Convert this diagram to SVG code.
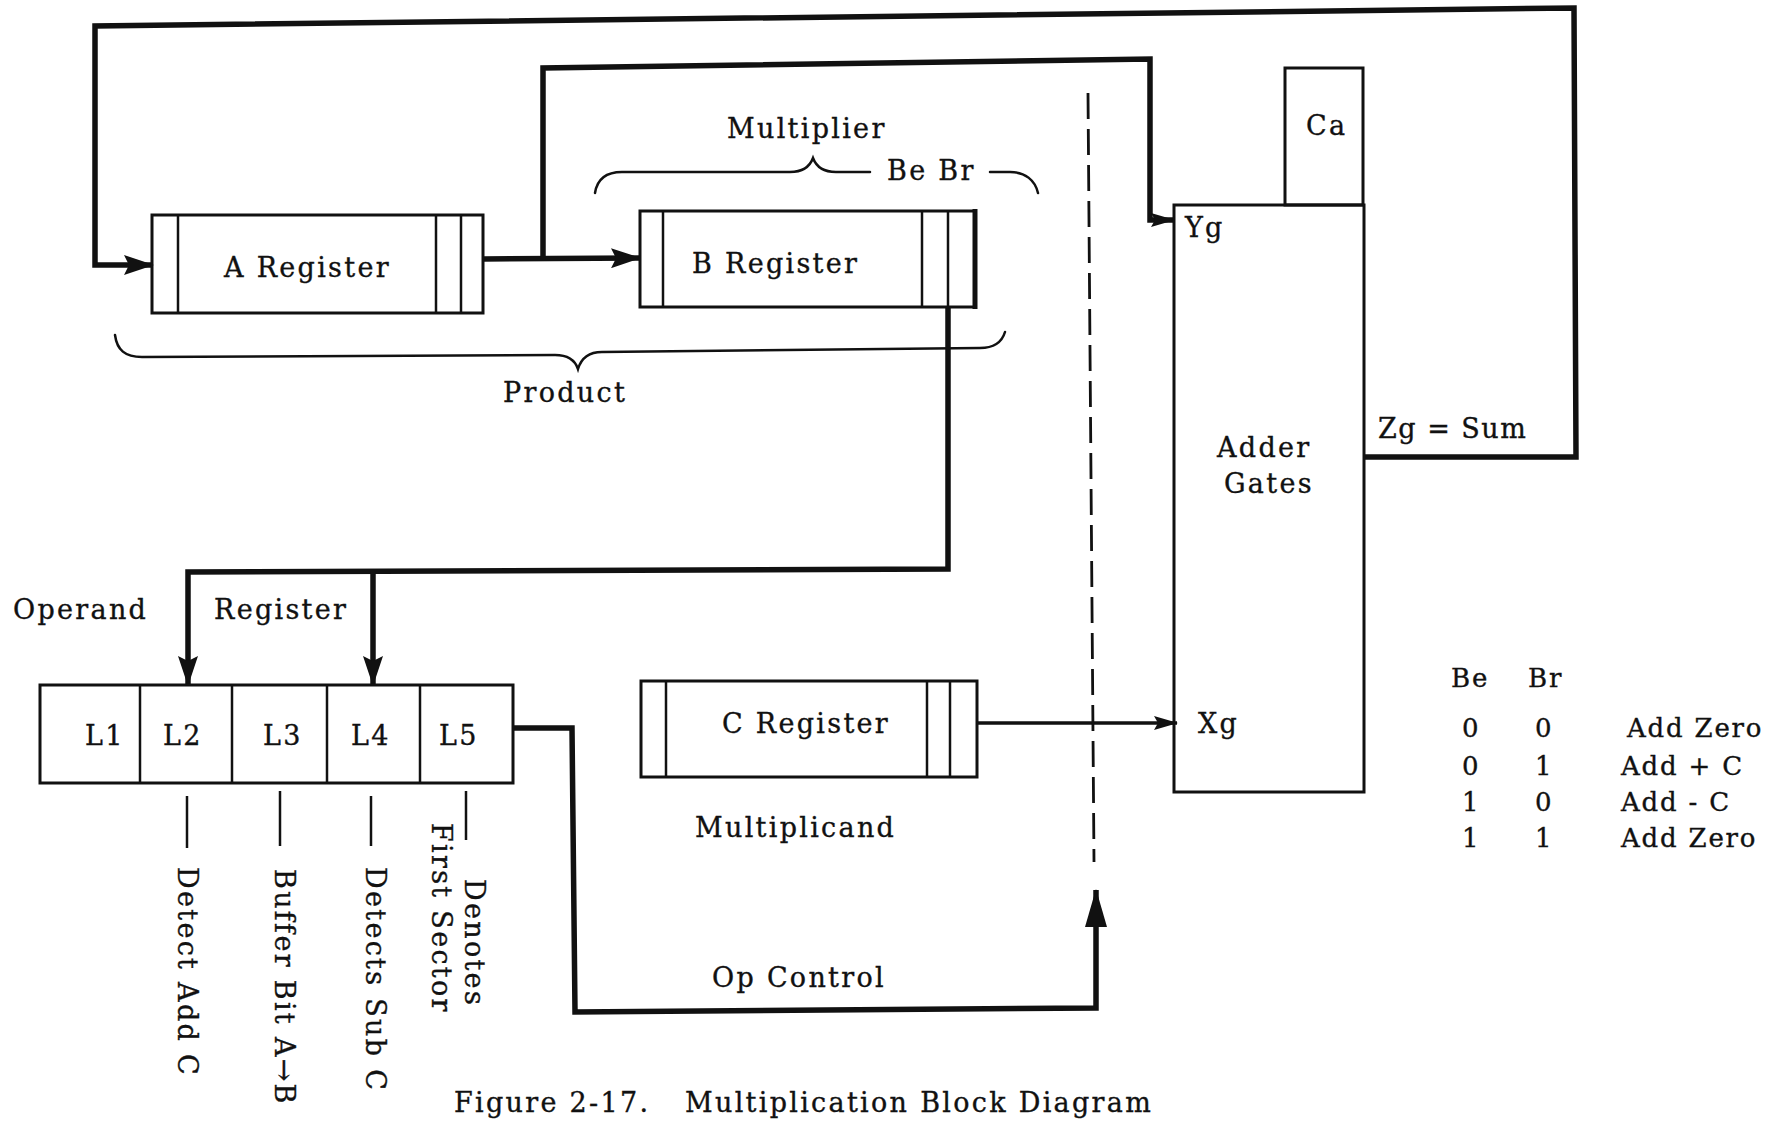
<svg xmlns="http://www.w3.org/2000/svg" width="1781" height="1140" viewBox="0 0 1781 1140">
<style>
.t{font-family:"DejaVu Serif","Liberation Serif",serif;font-size:27px;letter-spacing:2.3px;fill:#111;stroke:#111;stroke-width:0.35}
.s{font-size:26px;letter-spacing:1.8px}
.box{fill:none;stroke:#111;stroke-width:3}
.in{stroke:#111;stroke-width:2.5;fill:none}
.thick{fill:none;stroke:#111;stroke-width:5.5;stroke-linejoin:miter}
.med{fill:none;stroke:#111;stroke-width:3.5}
.thin{fill:none;stroke:#111;stroke-width:2.5}
.br{fill:none;stroke:#111;stroke-width:2.5;stroke-linecap:round}
.dash{fill:none;stroke:#111;stroke-width:2.8;stroke-dasharray:26 10}
</style>
<defs>
<marker id="arr" viewBox="0 0 30 20" refX="29" refY="10" markerWidth="30" markerHeight="20" markerUnits="userSpaceOnUse" orient="auto">
<path d="M0,0 L30,10 L0,20 L5,10 z" fill="#111"/>
</marker>
<marker id="arrS" viewBox="0 0 24 14" refX="23" refY="7" markerWidth="24" markerHeight="14" markerUnits="userSpaceOnUse" orient="auto">
<path d="M0,0 L24,7 L0,14 L4,7 z" fill="#111"/>
</marker>
<marker id="arrL" viewBox="0 0 38 22" refX="37" refY="11" markerWidth="38" markerHeight="22" markerUnits="userSpaceOnUse" orient="auto">
<path d="M0,0 L38,11 L0,22 z" fill="#111"/>
</marker>
</defs>
<rect width="1781" height="1140" fill="#fff"/>

<g id="connectors">
<path class="thick" d="M1365,457 L1576,457 L1574,8 L95,26 L95,265 L153,265" marker-end="url(#arr)"/>
<path class="thick" d="M483,259 L640,258" marker-end="url(#arr)"/>
<path class="thick" d="M543,259 L543,68 L1150,59 L1150,220 L1174,220" marker-end="url(#arrS)"/>
<path class="thick" d="M948,307 L948,569 L188,572 L188,685" marker-end="url(#arr)"/>
<path class="thick" d="M373,571 L373,685" marker-end="url(#arr)"/>
<path class="thick" d="M513,728 L572,728 L575,1012 L1096,1008 L1096,890" marker-end="url(#arrL)"/>
<path class="med" d="M977,723 L1177,723" marker-end="url(#arrS)"/>
<path class="dash" d="M1088,93 L1094,862"/>
</g>

<g id="a-register">
<rect class="box" x="152" y="215" width="331" height="98"/>
<line class="in" x1="178" y1="215" x2="178" y2="313"/>
<line class="in" x1="436" y1="215" x2="436" y2="313"/>
<line class="in" x1="461" y1="215" x2="461" y2="313"/>
<text class="t" x="224" y="277">A Register</text>
</g>

<g id="b-register">
<rect class="box" x="640" y="211" width="335" height="96"/>
<line class="in" x1="663" y1="211" x2="663" y2="307"/>
<line class="in" x1="922" y1="211" x2="922" y2="307"/>
<line class="in" x1="948" y1="211" x2="948" y2="307"/>
<line stroke="#111" stroke-width="5" x1="975" y1="209" x2="975" y2="309"/>
<text class="t" x="692" y="273">B Register</text>
</g>

<g id="c-register">
<rect class="box" x="641" y="681" width="336" height="96"/>
<line class="in" x1="666" y1="681" x2="666" y2="777"/>
<line class="in" x1="927" y1="681" x2="927" y2="777"/>
<line class="in" x1="950" y1="681" x2="950" y2="777"/>
<text class="t" x="722" y="733">C Register</text>
</g>

<g id="ca-register">
<rect class="box" x="1285" y="68" width="78" height="137"/>
<text class="t" x="1306" y="135">Ca</text>
</g>

<g id="adder-gates">
<rect class="box" x="1174" y="205" width="190" height="587"/>
<text class="t" x="1185" y="237">Yg</text>
<text class="t" x="1217" y="457">Adder</text>
<text class="t" x="1224" y="493">Gates</text>
<text class="t" x="1198" y="733">Xg</text>
<text class="t" x="1378" y="438" style="letter-spacing:1.5px">Zg = Sum</text>
</g>

<g id="operand-register">
<rect class="box" x="40" y="685" width="473" height="98"/>
<line class="in" x1="140" y1="685" x2="140" y2="783"/>
<line class="in" x1="232" y1="685" x2="232" y2="783"/>
<line class="in" x1="327" y1="685" x2="327" y2="783"/>
<line class="in" x1="420" y1="685" x2="420" y2="783"/>
<text class="t" x="85" y="745">L1</text>
<text class="t" x="163" y="745">L2</text>
<text class="t" x="263" y="745">L3</text>
<text class="t" x="351" y="745">L4</text>
<text class="t" x="439" y="745">L5</text>
<text class="t" x="13" y="619">Operand</text>
<text class="t" x="214" y="619">Register</text>
</g>

<g id="bit-notes">
<line class="thin" x1="187" y1="796" x2="187" y2="848"/>
<line class="thin" x1="280" y1="791" x2="280" y2="846"/>
<line class="thin" x1="371" y1="796" x2="371" y2="846"/>
<line class="thin" x1="466" y1="791" x2="466" y2="840"/>
<text class="t" transform="translate(178,867) rotate(90)">Detect Add C</text>
<text class="t" transform="translate(275,869) rotate(90)">Buffer Bit A→B</text>
<text class="t" transform="translate(366,867) rotate(90)">Detects Sub C</text>
<text class="t" transform="translate(465,879) rotate(90)">Denotes</text>
<text class="t" transform="translate(432,823) rotate(90)">First Sector</text>
</g>

<g id="braces">
<path class="br" d="M595,193 C597,180 605,172 622,172 L790,172 C803,172 810,166 813,158 C816,166 823,172 836,172 L870,172"/>
<path class="br" d="M990,172 L1010,172 C1025,172 1035,180 1038,193"/>
<path class="br" d="M115,335 C117,350 125,357 142,357 L555,355 C568,355 575,360 578,369 C581,359 588,352 602,352 L980,348 C994,348 1002,342 1005,332"/>
<text class="t" x="727" y="138">Multiplier</text>
<text class="t" x="887" y="180">Be Br</text>
<text class="t" x="503" y="402">Product</text>
</g>

<g id="labels">
<text class="t" x="695" y="837">Multiplicand</text>
<text class="t" x="712" y="987">Op Control</text>
<text class="t" x="454" y="1112">Figure 2-17.</text>
<text class="t" x="685" y="1112">Multiplication Block Diagram</text>
</g>

<g id="truth-table">
<text class="t s" x="1451" y="687">Be</text>
<text class="t s" x="1528" y="687">Br</text>
<text class="t s" x="1462" y="737">0</text>
<text class="t s" x="1535" y="737">0</text>
<text class="t s" x="1627" y="737">Add Zero</text>
<text class="t s" x="1462" y="775">0</text>
<text class="t s" x="1535" y="775">1</text>
<text class="t s" x="1621" y="775">Add + C</text>
<text class="t s" x="1462" y="811">1</text>
<text class="t s" x="1535" y="811">0</text>
<text class="t s" x="1621" y="811">Add - C</text>
<text class="t s" x="1462" y="847">1</text>
<text class="t s" x="1535" y="847">1</text>
<text class="t s" x="1621" y="847">Add Zero</text>
</g>
</svg>
